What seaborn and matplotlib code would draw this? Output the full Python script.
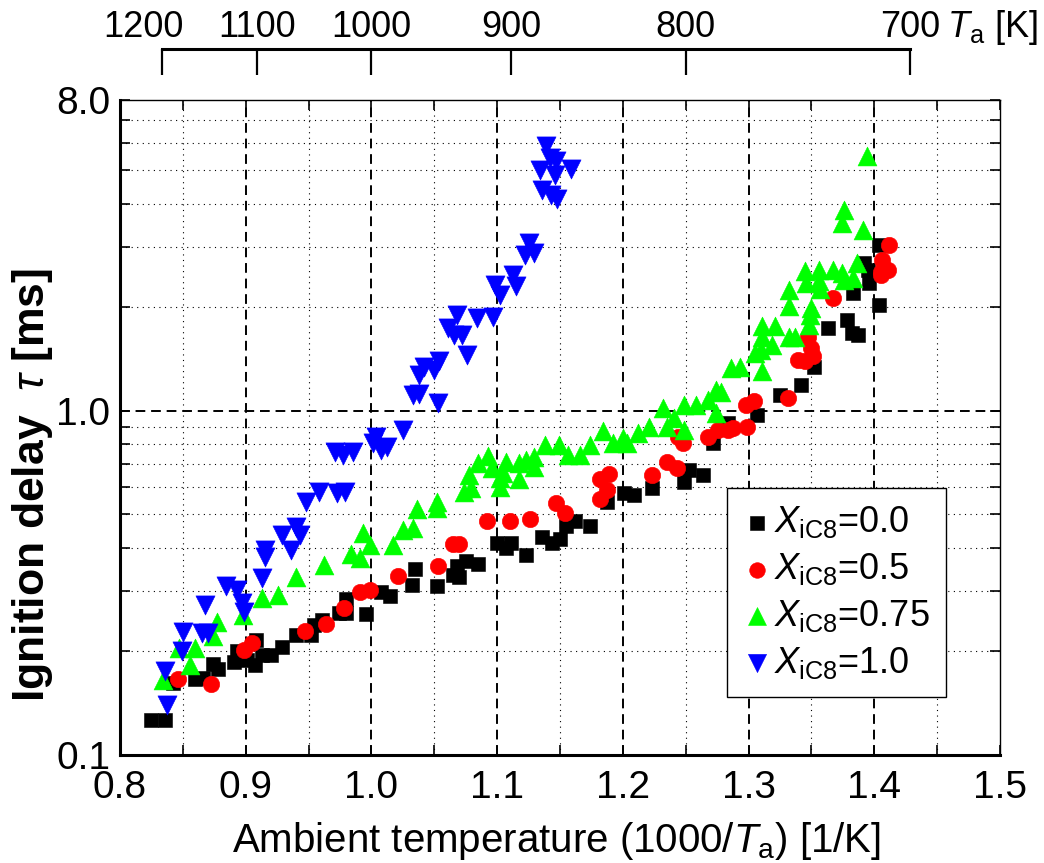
import numpy as np
import matplotlib
matplotlib.use("Agg")
import matplotlib.pyplot as plt
import matplotlib.transforms as mtransforms
from matplotlib.ticker import FixedLocator, NullFormatter
import seaborn as sns

plt.rcParams['font.family'] = ['Liberation Sans', 'DejaVu Sans']
plt.rcParams['mathtext.fontset'] = 'custom'
plt.rcParams['mathtext.rm'] = 'Liberation Sans'
plt.rcParams['mathtext.it'] = 'Liberation Sans:italic'
plt.rcParams['mathtext.bf'] = 'Liberation Sans:bold'

# ---------------- data ----------------
x_00 = [0.825, 0.836, 0.842, 0.860, 0.866, 0.874, 0.878, 0.891, 0.893, 0.901, 0.907, 0.908, 0.913, 0.920, 0.929,
        0.940, 0.952, 0.954, 0.961, 0.974, 0.980, 0.980, 0.996, 1.008, 1.015, 1.032, 1.035, 1.052, 1.065, 1.070,
        1.068, 1.075, 1.085, 1.100, 1.107, 1.111, 1.123, 1.136, 1.144, 1.150, 1.155, 1.162, 1.174, 1.187, 1.201,
        1.209, 1.223, 1.249, 1.253, 1.264, 1.272, 1.284, 1.307, 1.325, 1.342, 1.352, 1.363, 1.378, 1.382, 1.387,
        1.383, 1.392, 1.395, 1.396, 1.404, 1.404]
y_00 = [0.126, 0.126, 0.162, 0.166, 0.167, 0.184, 0.178, 0.186, 0.201, 0.189, 0.182, 0.216, 0.195, 0.195, 0.206,
        0.223, 0.223, 0.238, 0.247, 0.258, 0.284, 0.258, 0.256, 0.298, 0.289, 0.312, 0.347, 0.310, 0.334, 0.330,
        0.353, 0.365, 0.358, 0.412, 0.399, 0.412, 0.381, 0.431, 0.412, 0.424, 0.463, 0.477, 0.464, 0.545, 0.576,
        0.570, 0.596, 0.623, 0.674, 0.652, 0.806, 0.921, 0.974, 1.113, 1.190, 1.345, 1.740, 1.839, 1.682, 1.663,
        2.199, 2.688, 2.570, 2.351, 2.033, 3.038]

x_05 = [0.846, 0.872, 0.899, 0.905, 0.947, 0.964, 0.978, 0.991, 0.999, 1.021, 1.053, 1.065, 1.070, 1.092, 1.110,
        1.126, 1.147, 1.154, 1.182, 1.189, 1.187, 1.182, 1.223, 1.235, 1.243, 1.244, 1.248, 1.268, 1.276, 1.284,
        1.288, 1.299, 1.298, 1.304, 1.331, 1.339, 1.345, 1.350, 1.351, 1.347, 1.367, 1.405, 1.411, 1.406, 1.412,
        1.405]
y_05 = [0.166, 0.161, 0.202, 0.211, 0.230, 0.240, 0.268, 0.297, 0.302, 0.331, 0.355, 0.410, 0.410, 0.477, 0.477,
        0.484, 0.541, 0.506, 0.633, 0.656, 0.589, 0.554, 0.652, 0.712, 0.681, 0.842, 0.806, 0.842, 0.881, 0.881,
        0.891, 0.897, 1.041, 1.071, 1.089, 1.407, 1.391, 1.522, 1.445, 1.637, 2.126, 2.523, 2.570, 2.748, 3.038,
        2.485]

x_075 = [0.834, 0.847, 0.860, 0.856, 0.874, 0.877, 0.898, 0.913, 0.926, 0.940, 0.962, 0.984, 0.991, 0.993, 0.999,
         1.017, 1.025, 1.033, 1.036, 1.052, 1.052, 1.074, 1.079, 1.078, 1.085, 1.093, 1.096, 1.102, 1.102, 1.107,
         1.105, 1.117, 1.117, 1.123, 1.129, 1.129, 1.138, 1.149, 1.156, 1.166, 1.174, 1.184, 1.192, 1.200, 1.203,
         1.212, 1.221, 1.232, 1.235, 1.241, 1.249, 1.249, 1.258, 1.268, 1.274, 1.278, 1.274, 1.286, 1.293, 1.305,
         1.310, 1.311, 1.311, 1.311, 1.319, 1.321, 1.332, 1.337, 1.332, 1.332, 1.346, 1.345, 1.350, 1.348, 1.349,
         1.356, 1.356, 1.357, 1.367, 1.374, 1.376, 1.383, 1.386, 1.391, 1.394, 1.376, 1.374]
y_075 = [0.165, 0.204, 0.204, 0.183, 0.221, 0.244, 0.255, 0.285, 0.292, 0.330, 0.357, 0.384, 0.373, 0.441, 0.408,
         0.408, 0.451, 0.456, 0.518, 0.545, 0.521, 0.582, 0.596, 0.652, 0.705, 0.737, 0.681, 0.637, 0.602, 0.712,
         0.659, 0.633, 0.705, 0.720, 0.689, 0.734, 0.796, 0.796, 0.745, 0.745, 0.796, 0.871, 0.806, 0.833, 0.806,
         0.861, 0.900, 1.018, 0.900, 0.952, 1.041, 0.881, 1.041, 1.076, 1.151, 1.138, 0.985, 1.331, 1.345, 1.472,
         1.504, 1.758, 1.644, 1.301, 1.555, 1.758, 1.644, 1.644, 2.010, 2.247, 2.351, 2.541, 1.988, 1.778, 1.901,
         2.570, 2.376, 2.258, 2.570, 2.514, 2.403, 2.431, 2.688, 3.359, 5.512, 3.839, 3.513]

x_10 = [0.837, 0.836, 0.849, 0.850, 0.865, 0.870, 0.868, 0.884, 0.893, 0.897, 0.899, 0.913, 0.915, 0.915, 0.929,
        0.936, 0.940, 0.943, 0.948, 0.958, 0.973, 0.979, 0.971, 0.977, 0.985, 1.004, 1.001, 1.008, 1.012, 1.025,
        1.053, 1.033, 1.038, 1.038, 1.042, 1.050, 1.054, 1.076, 1.061, 1.066, 1.072, 1.068, 1.084, 1.097, 1.098,
        1.102, 1.113, 1.115, 1.125, 1.122, 1.129, 1.139, 1.142, 1.147, 1.134, 1.146, 1.159, 1.136, 1.143, 1.148]
y_10 = [0.140, 0.175, 0.200, 0.228, 0.226, 0.226, 0.273, 0.309, 0.302, 0.276, 0.261, 0.326, 0.377, 0.394, 0.436,
        0.394, 0.461, 0.436, 0.545, 0.582, 0.576, 0.582, 0.761, 0.745, 0.761, 0.842, 0.806, 0.770, 0.787, 0.881,
        1.053, 1.113, 1.121, 1.273, 1.345, 1.316, 1.391, 1.455, 1.740, 1.663, 1.663, 1.901, 1.860, 1.873, 2.324,
        2.174, 2.485, 2.298, 3.073, 2.841, 2.873, 5.892, 5.427, 5.305, 5.019, 4.853, 5.042, 4.389, 4.246, 4.125]

series_labels = [r'$X_{\mathrm{iC8}}$=0.0', r'$X_{\mathrm{iC8}}$=0.5',
                 r'$X_{\mathrm{iC8}}$=0.75', r'$X_{\mathrm{iC8}}$=1.0']
series_x = [x_00, x_05, x_075, x_10]
series_y = [y_00, y_05, y_075, y_10]
series_colors = ['#000000', '#ff0000', '#00ff00', '#0000ff']
series_markers = ['s', 'o', '^', 'v']
series_sizes = [100, 140, 185, 190]

x_major = [0.8, 0.9, 1.0, 1.1, 1.2, 1.3, 1.4, 1.5]
x_major_labels = ['0.8', '0.9', '1.0', '1.1', '1.2', '1.3', '1.4', '1.5']
x_minor = [0.85, 0.95, 1.05, 1.15, 1.25, 1.35, 1.45]
y_major = [0.1, 1.0, 8.0]
y_major_labels = ['0.1', '1.0', '8.0']
y_minor = [0.2, 0.3, 0.4, 0.5, 0.6, 0.7, 0.8, 0.9, 2, 3, 4, 5, 6, 7]
T_top = [1200, 1100, 1000, 900, 800, 700]
T_top_labels = ['1200', '1100', '1000', '900', '800', '700']

# ---------------- figure ----------------
W, H = 1044, 863
fig = plt.figure(figsize=(W / 100, H / 100), dpi=100)
ax = fig.add_axes([120 / W, 1 - 755 / H, 880 / W, 655 / H])

for xs, ys, c, m, s, lab in zip(series_x, series_y, series_colors, series_markers, series_sizes, series_labels):
    sns.scatterplot(x=xs, y=ys, ax=ax, marker=m, s=s, color=c, edgecolor=c,
                    linewidth=0.4, label=lab, zorder=3)

ax.set_yscale('log')
ax.set_xlim(0.8, 1.5)
ax.set_ylim(0.1, 8.0)
ax.set_xticks(x_major)
ax.set_xticklabels(x_major_labels)
ax.xaxis.set_minor_locator(FixedLocator(x_minor))
ax.set_yticks(y_major)
ax.set_yticklabels(y_major_labels)
ax.yaxis.set_minor_locator(FixedLocator(y_minor))
ax.yaxis.set_minor_formatter(NullFormatter())
ax.set_xlabel('')
ax.set_ylabel('')

# grid
dash = (0, (5, 3))
dot = (0, (1, 4))
for xv in x_major[1:-1]:
    ax.axvline(xv, color='k', lw=1.4, ls=dash, zorder=1)
for xv in x_minor:
    ax.axvline(xv, color='k', lw=0.8, ls=dot, zorder=1)
ax.axhline(1.0, color='k', lw=1.4, ls=dash, zorder=1)
for yv in y_minor:
    ax.axhline(yv, color='k', lw=0.8, ls=dot, zorder=1)

ax.tick_params(which='both', direction='in', top=True, right=True, length=7, width=1.2,
               labelsize=28, colors='k')
ax.tick_params(axis='x', which='both', pad=11)
ax.tick_params(axis='y', which='both', pad=7)
for side in ['left', 'bottom']:
    ax.spines[side].set_linewidth(2.2)
for side in ['top', 'right']:
    ax.spines[side].set_linewidth(1.0)
for sp in ax.spines.values():
    sp.set_color('k')
    sp.set_zorder(4)

# legend
handles, labels = ax.get_legend_handles_labels()
leg = ax.legend(handles, labels, loc='lower left', bbox_to_anchor=(0.690, 0.0885),
                fontsize=26, frameon=True, fancybox=False, edgecolor='k', framealpha=1,
                borderpad=0.45, labelspacing=0.3, handlelength=0.75, handletextpad=0.1,
                borderaxespad=0, markerscale=0.95)
leg.get_frame().set_linewidth(1.0)

# top temperature scale
ax_top = fig.add_axes([120 / W, 1 - 75 / H, 880 / W, 26 / H])
ax_top.set_xlim(0.8, 1.5)
ax_top.patch.set_visible(False)
ax_top.set_yticks([])
for side in ['left', 'right', 'bottom']:
    ax_top.spines[side].set_visible(False)
ax_top.spines['top'].set_linewidth(2.2)
ax_top.spines['top'].set_bounds(1000 / T_top[0], 1000 / T_top[-1])
ax_top.xaxis.tick_top()
ax_top.set_xticks([1000.0 / t for t in T_top])
ax_top.set_xticklabels(T_top_labels)
ax_top.tick_params(axis='x', direction='in', length=18.7, width=1.6, labelsize=26, pad=3,
                   bottom=False, top=True, labelbottom=False, labeltop=True)
lbls = ax_top.get_xticklabels()
lbls[0].set_transform(lbls[0].get_transform() +
                      mtransforms.ScaledTranslation(-0.18, 0, fig.dpi_scale_trans))

fig.text(947 / W, 1 - 37 / H, r'$T_{\mathrm{a}}$ [K]', fontsize=26, ha='left', va='baseline')

# axis labels
fig.text(33 / W, 1 - 485 / H, r'Ignition delay  $\tau$ [ms]', rotation=90, fontsize=32,
         fontweight='bold', ha='center', va='center')
fig.text(556 / W, 11 / H, r'Ambient temperature (1000/$T_{\mathrm{a}}$) [1/K]', fontsize=29,
         ha='center', va='baseline')

fig.savefig('out.png', dpi=100)
